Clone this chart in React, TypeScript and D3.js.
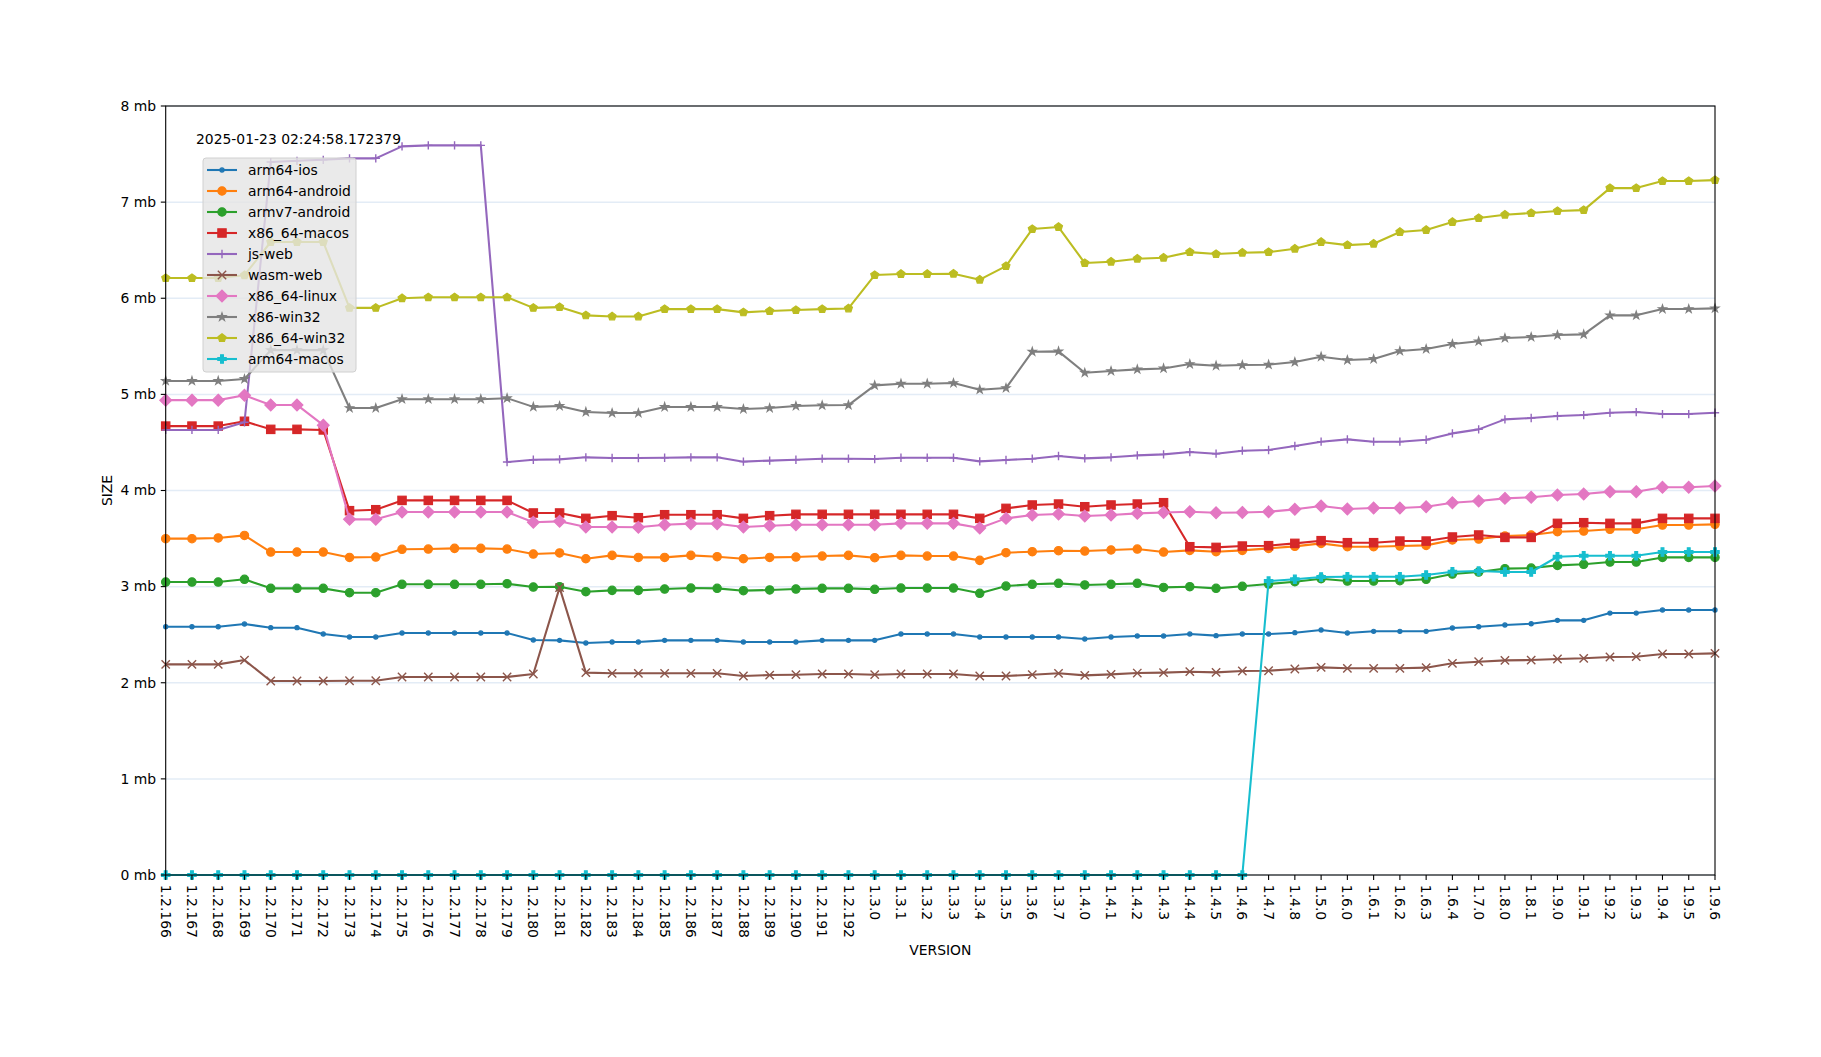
import React from 'react';
import * as d3 from 'd3';

const versions = [
  '1.2.166','1.2.167','1.2.168','1.2.169','1.2.170','1.2.171','1.2.172','1.2.173','1.2.174','1.2.175',
  '1.2.176','1.2.177','1.2.178','1.2.179','1.2.180','1.2.181','1.2.182','1.2.183','1.2.184','1.2.185',
  '1.2.186','1.2.187','1.2.188','1.2.189','1.2.190','1.2.191','1.2.192',
  '1.3.0','1.3.1','1.3.2','1.3.3','1.3.4','1.3.5','1.3.6','1.3.7',
  '1.4.0','1.4.1','1.4.2','1.4.3','1.4.4','1.4.5','1.4.6','1.4.7','1.4.8',
  '1.5.0','1.6.0','1.6.1','1.6.2','1.6.3','1.6.4','1.7.0','1.8.0','1.8.1',
  '1.9.0','1.9.1','1.9.2','1.9.3','1.9.4','1.9.5','1.9.6',
];

const arm64Ios = [2.583,2.583,2.583,2.611,2.573,2.573,2.507,2.476,2.476,2.517,2.517,2.517,2.517,2.517,2.445,2.441,2.413,2.424,2.424,2.441,2.441,2.441,2.424,2.424,2.424,2.441,2.441,2.441,2.507,2.507,2.507,2.476,2.476,2.476,2.476,2.455,2.476,2.486,2.486,2.507,2.49,2.507,2.507,2.521,2.549,2.517,2.535,2.535,2.535,2.569,2.583,2.601,2.614,2.649,2.649,2.725,2.725,2.757,2.757,2.757];
const arm64Android = [3.499,3.499,3.506,3.533,3.36,3.36,3.36,3.304,3.308,3.388,3.391,3.398,3.398,3.391,3.339,3.35,3.29,3.325,3.304,3.304,3.325,3.311,3.29,3.304,3.308,3.318,3.325,3.301,3.325,3.318,3.318,3.273,3.353,3.363,3.374,3.37,3.381,3.391,3.36,3.377,3.363,3.377,3.398,3.419,3.45,3.415,3.415,3.422,3.429,3.485,3.495,3.526,3.537,3.571,3.578,3.596,3.596,3.641,3.641,3.648];
const armv7Android = [3.048,3.048,3.048,3.076,2.982,2.982,2.982,2.937,2.937,3.024,3.024,3.024,3.024,3.03,2.996,2.999,2.947,2.961,2.961,2.975,2.985,2.982,2.958,2.965,2.975,2.982,2.982,2.972,2.985,2.985,2.985,2.93,3.006,3.024,3.034,3.017,3.024,3.034,2.992,2.999,2.982,3.003,3.027,3.051,3.082,3.058,3.058,3.062,3.076,3.131,3.152,3.187,3.193,3.221,3.232,3.256,3.256,3.304,3.304,3.304];
const x8664Macos = [4.67,4.67,4.67,4.72,4.636,4.636,4.63,3.79,3.8,3.897,3.897,3.897,3.897,3.897,3.766,3.766,3.71,3.738,3.717,3.748,3.748,3.748,3.71,3.738,3.752,3.752,3.752,3.752,3.752,3.752,3.752,3.71,3.814,3.849,3.859,3.831,3.849,3.859,3.873,3.415,3.408,3.422,3.426,3.45,3.478,3.457,3.457,3.474,3.474,3.516,3.537,3.512,3.512,3.658,3.665,3.658,3.658,3.71,3.71,3.71];
const jsWeb = [4.63,4.63,4.63,4.71,7.417,7.43,7.44,7.455,7.455,7.58,7.59,7.59,7.59,4.296,4.32,4.324,4.345,4.338,4.338,4.341,4.345,4.345,4.3,4.311,4.32,4.331,4.331,4.327,4.341,4.341,4.341,4.303,4.317,4.331,4.359,4.334,4.345,4.365,4.376,4.4,4.383,4.414,4.421,4.463,4.508,4.532,4.508,4.508,4.528,4.594,4.636,4.74,4.754,4.775,4.785,4.809,4.816,4.795,4.795,4.809];
const wasmWeb = [2.191,2.191,2.191,2.236,2.018,2.018,2.018,2.021,2.021,2.06,2.06,2.06,2.06,2.06,2.091,2.99,2.105,2.098,2.098,2.098,2.098,2.098,2.07,2.08,2.084,2.091,2.091,2.084,2.091,2.091,2.091,2.07,2.07,2.084,2.098,2.077,2.087,2.101,2.105,2.115,2.108,2.122,2.125,2.143,2.16,2.15,2.15,2.15,2.157,2.202,2.219,2.233,2.236,2.247,2.254,2.268,2.271,2.299,2.299,2.306];
const x8664Linux = [4.94,4.94,4.94,4.99,4.89,4.89,4.68,3.7,3.7,3.776,3.776,3.776,3.776,3.776,3.67,3.679,3.62,3.62,3.617,3.644,3.655,3.655,3.62,3.634,3.644,3.644,3.644,3.644,3.658,3.658,3.658,3.61,3.71,3.745,3.755,3.734,3.745,3.762,3.772,3.779,3.769,3.772,3.779,3.804,3.838,3.807,3.818,3.818,3.831,3.873,3.89,3.918,3.929,3.953,3.963,3.988,3.988,4.033,4.033,4.046];
const x86Win32 = [5.14,5.14,5.14,5.16,5.46,5.46,5.46,4.858,4.858,4.95,4.95,4.95,4.95,4.96,4.87,4.879,4.817,4.806,4.806,4.869,4.869,4.869,4.848,4.858,4.879,4.886,4.889,5.094,5.111,5.111,5.118,5.049,5.066,5.444,5.447,5.225,5.243,5.26,5.27,5.315,5.298,5.305,5.309,5.336,5.392,5.357,5.368,5.451,5.472,5.524,5.552,5.586,5.597,5.617,5.624,5.822,5.822,5.888,5.888,5.895];
const x8664Win32 = [6.21,6.21,6.21,6.24,6.585,6.585,6.585,5.9,5.9,6.0,6.01,6.01,6.01,6.01,5.9,5.908,5.822,5.811,5.811,5.887,5.887,5.887,5.853,5.867,5.877,5.887,5.894,6.241,6.252,6.252,6.255,6.193,6.335,6.72,6.741,6.366,6.38,6.411,6.422,6.48,6.46,6.474,6.48,6.515,6.585,6.553,6.567,6.689,6.71,6.793,6.834,6.869,6.886,6.907,6.917,7.146,7.146,7.219,7.219,7.229];
const arm64Macos = [0,0,0,0,0,0,0,0,0,0,0,0,0,0,0,0,0,0,0,0,0,0,0,0,0,0,0,0,0,0,0,0,0,0,0,0,0,0,0,0,0,0,3.058,3.076,3.1,3.103,3.103,3.103,3.121,3.155,3.162,3.152,3.152,3.311,3.322,3.322,3.322,3.36,3.36,3.36];

const seriesNames = ['arm64-ios','arm64-android','armv7-android','x86_64-macos','js-web','wasm-web','x86_64-linux','x86-win32','x86_64-win32','arm64-macos'];
const seriesValues = [arm64Ios,arm64Android,armv7Android,x8664Macos,jsWeb,wasmWeb,x8664Linux,x86Win32,x8664Win32,arm64Macos];
const seriesColors = ['#1f77b4','#ff7f0e','#2ca02c','#d62728','#9467bd','#8c564b','#e377c2','#7f7f7f','#bcbd22','#17becf'];
const seriesMarkers = ['.','o','o','s','+','x','D','*','p','P'];

const yTicks = [0,1,2,3,4,5,6,7,8];
const timestamp = '2025-01-23 02:24:58.172379';

const FONT = 'DejaVu Sans, sans-serif';
const MS = 8.33; // marker size px

function polyPath(pts: [number, number][]) {
  return 'M' + pts.map(p => p[0].toFixed(2) + ',' + p[1].toFixed(2)).join('L') + 'Z';
}

function Marker({ type, cx, cy, color }: { type: string; cx: number; cy: number; color: string }) {
  const h = MS / 2;
  const sw = 1.2;
  switch (type) {
    case '.':
      return <circle cx={cx} cy={cy} r={MS / 4} fill={color} stroke={color} strokeWidth={sw} />;
    case 'o':
      return <circle cx={cx} cy={cy} r={h} fill={color} stroke={color} strokeWidth={sw} />;
    case 's':
      return <rect x={cx - h} y={cy - h} width={MS} height={MS} fill={color} stroke={color} strokeWidth={sw} />;
    case '+':
      return <path d={`M${cx - h},${cy}H${cx + h}M${cx},${cy - h}V${cy + h}`} stroke={color} strokeWidth={1.4} fill="none" />;
    case 'x':
      return <path d={`M${cx - h},${cy - h}L${cx + h},${cy + h}M${cx - h},${cy + h}L${cx + h},${cy - h}`} stroke={color} strokeWidth={1.4} fill="none" />;
    case 'D': {
      const r = MS * 0.7071;
      return <path d={polyPath([[cx, cy - r], [cx + r, cy], [cx, cy + r], [cx - r, cy]])} fill={color} stroke={color} strokeWidth={sw} />;
    }
    case '*': {
      const pts: [number, number][] = [];
      for (let k = 0; k < 10; k++) {
        const rr = k % 2 === 0 ? h : h * 0.381966;
        const a = -Math.PI / 2 + (k * Math.PI) / 5;
        pts.push([cx + rr * Math.cos(a), cy + rr * Math.sin(a)]);
      }
      return <path d={polyPath(pts)} fill={color} stroke={color} strokeWidth={sw} strokeLinejoin="miter" />;
    }
    case 'p': {
      const pts: [number, number][] = [];
      for (let k = 0; k < 5; k++) {
        const a = -Math.PI / 2 + (k * 2 * Math.PI) / 5;
        pts.push([cx + h * Math.cos(a), cy + h * Math.sin(a)]);
      }
      return <path d={polyPath(pts)} fill={color} stroke={color} strokeWidth={sw} />;
    }
    case 'P': {
      const w = MS / 6;
      const pts: [number, number][] = [
        [-w, -h], [w, -h], [w, -w], [h, -w], [h, w], [w, w], [w, h], [-w, h], [-w, w], [-h, w], [-h, -w], [-w, -w],
      ].map(p => [cx + p[0], cy + p[1]] as [number, number]);
      return <path d={polyPath(pts)} fill={color} stroke={color} strokeWidth={sw} />;
    }
    default:
      return null;
  }
}

export default function App() {
  const W = 1821, H = 1057;
  const left = 165.7, right = 1715, top = 106, bottom = 875;
  const x = d3.scalePoint<string>().domain(versions).range([left, right]);
  const y = d3.scaleLinear().domain([0, 8]).range([bottom, top]);
  const lineGen = d3.line<number>().x((_, i) => x(versions[i]) as number).y(d => y(d));

  const legendX = 203, legendY = 158, legendW = 153, legendH = 214;
  const rowY0 = 170, rowStep = 21;

  return (
    <svg width={W} height={H} style={{ position: 'absolute', left: 0, top: 0, display: 'block', background: '#fff' }} fontFamily={FONT}>
      <rect x={0} y={0} width={W} height={H} fill="#fff" />
      {/* grid */}
      {yTicks.map(t => (
        <line key={'g' + t} x1={left} x2={right} y1={y(t)} y2={y(t)} stroke="#e3ecf6" strokeWidth={1.5} />
      ))}
      {/* series */}
      {seriesValues.map((vals, si) => (
        <g key={seriesNames[si]}>
          <path d={lineGen(vals) || ''} fill="none" stroke={seriesColors[si]} strokeWidth={2.08} strokeLinejoin="round" />
          {vals.map((v, i) => (
            <Marker key={i} type={seriesMarkers[si]} cx={x(versions[i]) as number} cy={y(v)} color={seriesColors[si]} />
          ))}
        </g>
      ))}
      {/* frame */}
      <rect x={left} y={top} width={right - left} height={bottom - top} fill="none" stroke="#000" strokeWidth={1.1} />
      {/* y axis */}
      {yTicks.map(t => (
        <g key={'yt' + t}>
          <line x1={left - 4.9} x2={left} y1={y(t)} y2={y(t)} stroke="#000" strokeWidth={1.1} />
          <text x={156} y={y(t)} dy="0.35em" textAnchor="end" fontSize={13.9} fill="#000">{t} mb</text>
        </g>
      ))}
      {/* x axis */}
      {versions.map(v => {
        const px = x(v) as number;
        return (
          <g key={'xt' + v}>
            <line x1={px} x2={px} y1={bottom} y2={bottom + 4.9} stroke="#000" strokeWidth={1.1} />
            <text transform={`translate(${px},${bottom + 9.8}) rotate(90)`} textAnchor="start" dy="0.35em" fontSize={13.9} fill="#000">{v}</text>
          </g>
        );
      })}
      <text x={(left + right) / 2} y={955} textAnchor="middle" fontSize={13.9} fill="#000">VERSION</text>
      <text transform={`translate(112,${(top + bottom) / 2}) rotate(-90)`} textAnchor="middle" fontSize={13.9} fill="#000">SIZE</text>
      {/* timestamp */}
      <text x={196} y={144} fontSize={13.9} fill="#000">{timestamp}</text>
      {/* legend */}
      <rect x={legendX} y={legendY} width={legendW} height={legendH} rx={3} ry={3} fill="#e5e5e5" fillOpacity={0.8} stroke="#d0d0d0" strokeWidth={1} />
      {seriesNames.map((n, si) => {
        const ry = rowY0 + si * rowStep;
        return (
          <g key={'lg' + n}>
            <line x1={207} x2={237} y1={ry} y2={ry} stroke={seriesColors[si]} strokeWidth={2.08} />
            <Marker type={seriesMarkers[si]} cx={222} cy={ry} color={seriesColors[si]} />
            <text x={248} y={ry} dy="0.35em" fontSize={13.9} fill="#000">{n}</text>
          </g>
        );
      })}
    </svg>
  );
}
